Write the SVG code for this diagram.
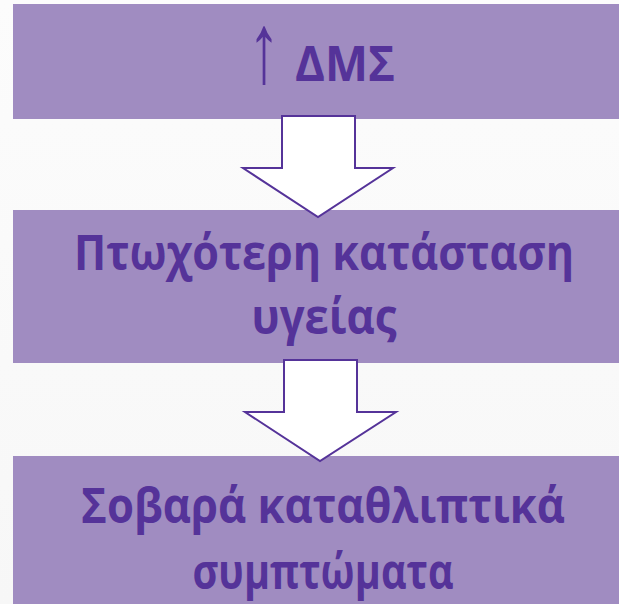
<svg xmlns="http://www.w3.org/2000/svg" width="619" height="604" viewBox="0 0 619 604">
  <defs>
    <linearGradient id="bg" x1="0" y1="0" x2="0" y2="1">
      <stop offset="0" stop-color="#fcfcfc"/>
      <stop offset="1" stop-color="#f7f7f7"/>
    </linearGradient>
    <style>
      .box { fill: #a08cc1; }
      .label { font-family: "Open Sans", "Noto Sans", "DejaVu Sans", sans-serif; font-weight: bold; font-size: 48px; fill: #553399; text-anchor: middle; }
      .sym { font-family: "Liberation Sans", "DejaVu Sans", sans-serif; font-weight: normal; font-size: 64px; fill: #553399; text-anchor: middle; }
      .flow { fill: #ffffff; stroke: #553399; stroke-width: 2; stroke-linejoin: miter; }
    </style>
  </defs>

  <rect x="0" y="0" width="619" height="604" fill="url(#bg)"/>

  <g id="node-dms">
    <rect class="box" x="13" y="4" width="620" height="115"/>
    <!-- tall thin arrow: glyph stretched vertically about its baseline -->
    <text class="sym" transform="translate(264 82) scale(1 1.55)" x="0" y="0">↑</text>
    <text class="label" x="345" y="81" textLength="100" lengthAdjust="spacingAndGlyphs">ΔΜΣ</text>
  </g>

  <g id="node-health">
    <rect class="box" x="13" y="210" width="620" height="153"/>
    <text class="label" x="324" y="270" textLength="500" lengthAdjust="spacingAndGlyphs">Πτωχότερη κατάσταση</text>
    <text class="label" x="324" y="334" textLength="145" lengthAdjust="spacingAndGlyphs">υγείας</text>
  </g>

  <g id="node-depression">
    <rect class="box" x="13" y="456" width="620" height="150"/>
    <text class="label" x="323" y="523" textLength="484" lengthAdjust="spacingAndGlyphs">Σοβαρά καταθλιπτικά</text>
    <text class="label" x="323" y="589" textLength="261" lengthAdjust="spacingAndGlyphs">συμπτώματα</text>
  </g>

  <g id="connectors">
    <path class="flow" d="M282 116 H355 V168 H393 L318 217 L243 168 H282 Z"/>
    <path class="flow" d="M284 360 H357 V412 H396 L320 461 L245 412 H284 Z"/>
  </g>
</svg>
